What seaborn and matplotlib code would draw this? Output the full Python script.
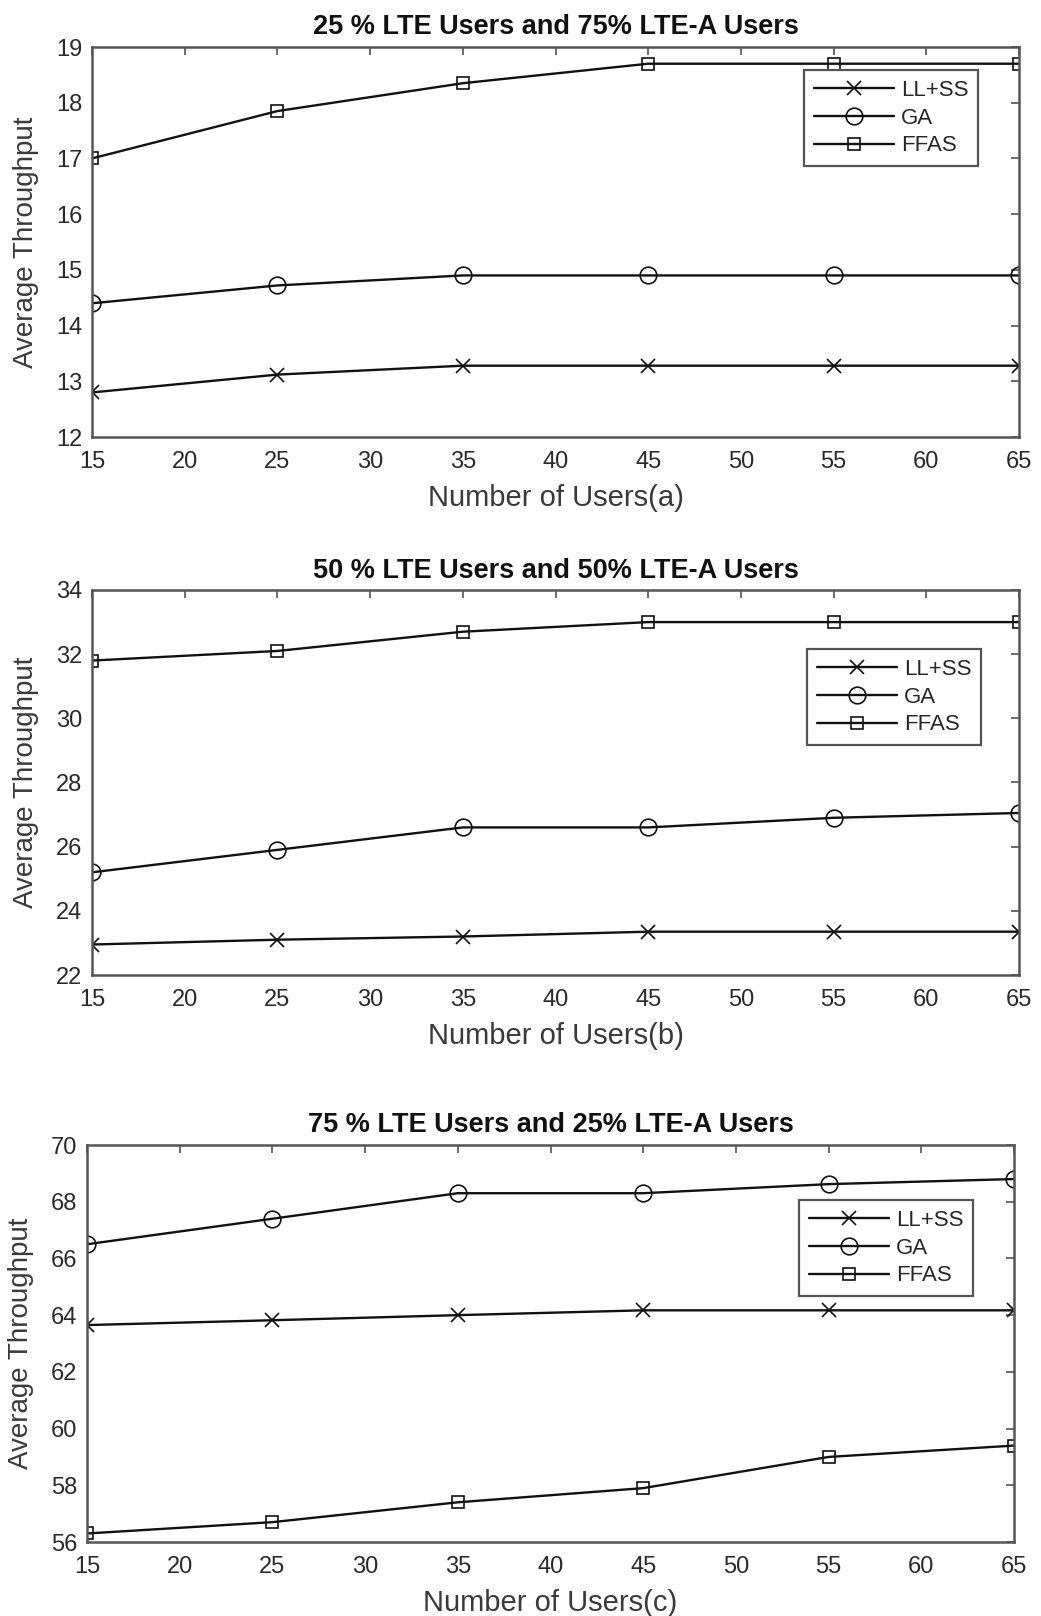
import matplotlib
matplotlib.use("Agg")
import matplotlib.pyplot as plt
import seaborn as sns
import pandas as pd

users = [15, 25, 35, 45, 55, 65]
series_names = ["LL+SS", "GA", "FFAS"]

# Panel (a): 25% LTE / 75% LTE-A
a_llss = [12.8, 13.12, 13.28, 13.28, 13.28, 13.28]
a_ga = [14.4, 14.72, 14.9, 14.9, 14.9, 14.9]
a_ffas = [17.0, 17.85, 18.35, 18.7, 18.7, 18.7]

# Panel (b): 50% LTE / 50% LTE-A
b_llss = [22.95, 23.1, 23.2, 23.35, 23.35, 23.35]
b_ga = [25.2, 25.9, 26.6, 26.6, 26.9, 27.05]
b_ffas = [31.8, 32.1, 32.7, 33.0, 33.0, 33.0]

# Panel (c): 75% LTE / 25% LTE-A
c_llss = [63.65, 63.82, 64.0, 64.17, 64.17, 64.17]
c_ga = [66.5, 67.4, 68.3, 68.3, 68.62, 68.8]
c_ffas = [56.3, 56.7, 57.4, 57.9, 59.0, 59.4]

titles = ["25 % LTE Users and 75% LTE-A Users",
          "50 % LTE Users and 50% LTE-A Users",
          "75 % LTE Users and 25% LTE-A Users"]
xlabels = ["Number of Users(a)", "Number of Users(b)", "Number of Users(c)"]
ylabel = "Average Throughput"
yticks_list = [[12, 13, 14, 15, 16, 17, 18, 19],
               [22, 24, 26, 28, 30, 32, 34],
               [56, 58, 60, 62, 64, 66, 68, 70]]
xticks = [15, 20, 25, 30, 35, 40, 45, 50, 55, 60, 65]

sns.set_theme(style="white")
plt.rcParams["font.family"] = ["Liberation Sans", "DejaVu Sans"]

fig = plt.figure(figsize=(10.41, 16.16), dpi=100)
axes_pos = [
    [92 / 1041, 1 - 437 / 1616, 927 / 1041, 390 / 1616],
    [92 / 1041, 1 - 975 / 1616, 927 / 1041, 385 / 1616],
    [87 / 1041, 1 - 1542 / 1616, 927 / 1041, 397 / 1616],
]
legend_anchor = [
    (804 / 1041, 1 - 70 / 1616),
    (807 / 1041, 1 - 649 / 1616),
    (799 / 1041, 1 - 1200 / 1616),
]
panels = [(a_llss, a_ga, a_ffas), (b_llss, b_ga, b_ffas), (c_llss, c_ga, c_ffas)]
markers = {"LL+SS": "x", "GA": "o", "FFAS": "s"}
msizes = {"LL+SS": 10, "GA": 12, "FFAS": 8.5}

for i, (vals, pos) in enumerate(zip(panels, axes_pos)):
    ax = fig.add_axes(pos)
    for name, v in zip(series_names, vals):
        df = pd.DataFrame({"users": users, "thr": v})
        sns.lineplot(data=df, x="users", y="thr", ax=ax, color="#111111",
                     marker=markers[name], markersize=msizes[name],
                     markerfacecolor="none", markeredgecolor="#111111",
                     markeredgewidth=1.2, linewidth=1.7, label=name)
    ax.set_xlim(15, 65)
    yt = yticks_list[i]
    ax.set_ylim(yt[0], yt[-1])
    ax.set_xticks(xticks)
    ax.set_yticks(yt)
    ax.tick_params(direction="in", top=True, right=True, length=6,
                   width=1.1, colors="#444444", labelsize=17,
                   labelcolor="#2a2a2a")
    ax.tick_params(axis="x", pad=10)
    ax.tick_params(axis="y", pad=7)
    for s in ax.spines.values():
        s.set_color("#555555")
        s.set_linewidth(1.8)
    ax.set_title(titles[i], fontsize=19.5, fontweight="bold", pad=9, color="#111111")
    ax.set_xlabel(xlabels[i], fontsize=21, color="#3a3a3a", labelpad=8)
    ax.set_ylabel(ylabel, fontsize=20, color="#3a3a3a", labelpad=12)
    leg = ax.legend(loc="upper left", bbox_to_anchor=legend_anchor[i],
                    bbox_transform=fig.transFigure, fontsize=16,
                    frameon=True, fancybox=False, framealpha=1,
                    edgecolor="#555555", borderpad=0.45, labelspacing=0.3,
                    handlelength=3.6, handletextpad=0.3, borderaxespad=0)
    leg.get_frame().set_linewidth(1.6)

fig.savefig("out.png", dpi=100, facecolor="white")
